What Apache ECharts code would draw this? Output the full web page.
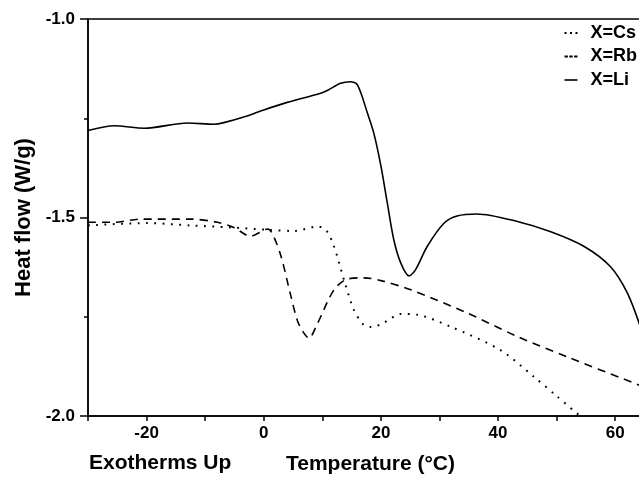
<!DOCTYPE html>
<html>
<head>
<meta charset="utf-8">
<script src="https://cdn.jsdelivr.net/npm/echarts@6/dist/echarts.min.js"></script>
<style>
  html, body { margin: 0; padding: 0; background: #fff; }
  #main { width: 639px; height: 477px; }
</style>
</head>
<body>
<div id="main"></div>
<script>
  // temperatures (°C) and heat flow (W/g)
  var csTemp = [-30, -19.9, -12.5, -5.6, 0.6, 5.2, 9.2, 10.6, 12, 13.7, 15.4, 17.1, 18.4, 20.5, 23.4, 26.2, 31.9, 40.4, 46.1, 50.1, 54];
  var csFlow = [-1.520, -1.514, -1.520, -1.525, -1.531, -1.534, -1.523, -1.531, -1.573, -1.657, -1.733, -1.771, -1.776, -1.765, -1.743, -1.745, -1.775, -1.834, -1.901, -1.951, -2.0];

  var rbTemp = [-30, -25.5, -21, -12.5, -7.9, -5.1, -2.3, 0.7, 1.7, 3.0, 4.5, 5.75, 6.8, 7.7, 9.2, 12, 14.3, 17.1, 20, 25.1, 34.8, 43.3, 51.8, 64.4];
  var rbFlow = [-1.512, -1.512, -1.504, -1.504, -1.512, -1.525, -1.547, -1.529, -1.548, -1.600, -1.690, -1.760, -1.790, -1.804, -1.766, -1.682, -1.655, -1.652, -1.659, -1.682, -1.741, -1.800, -1.851, -1.924];

  var liTemp = [-30, -25.5, -20.4, -13, -8.5, -6.8, -3, 0, 4, 9.7, 11.1, 13.1, 14.8, 16, 17.7, 18.8, 20, 21.1, 22.2, 23.4, 24.8, 25.9, 27.9, 30.8, 33, 36.4, 43.3, 49, 54.7, 59.2, 62.1, 64.4];
  var liFlow = [-1.281, -1.269, -1.275, -1.262, -1.265, -1.261, -1.245, -1.229, -1.210, -1.187, -1.178, -1.162, -1.158, -1.166, -1.237, -1.288, -1.370, -1.464, -1.556, -1.615, -1.647, -1.632, -1.573, -1.514, -1.496, -1.491, -1.510, -1.536, -1.573, -1.624, -1.691, -1.780];

  var seriesNames = ["X=Cs", "X=Rb", "X=Li"];
  var xLabelValues = [-20, 0, 20, 40, 60];

  function pairs(t, v) {
    return t.map(function (x, i) { return [x, v[i]]; });
  }

  var font = "'Liberation Sans', Arial, sans-serif";
  var myChart = echarts.init(document.getElementById("main"));
  var option;

  option = {
    animation: false,
    backgroundColor: "#fff",
    grid: {
      left: 88,
      right: -2,
      top: 19,
      bottom: 61,
      show: true,
      borderColor: "#000",
      borderWidth: 1.5,
      outerBoundsMode: "none",
    },
    legend: {
      orient: "vertical",
      right: 2,
      top: 24,
      padding: 0,
      itemGap: 5.5,
      itemWidth: 13,
      itemHeight: 2,
      textStyle: {
        fontFamily: font,
        fontWeight: "bold",
        fontSize: 18,
        color: "#000",
        padding: [0, 0, 0, 8],
      },
      data: [
        { name: seriesNames[0], icon: "path://M0,0h2v2h-2z M5.5,0h2v2h-2z M11,0h2v2h-2z" },
        { name: seriesNames[1], icon: "path://M0,0h3.4v2h-3.4z M4.8,0h3.4v2h-3.4z M9.6,0h3.4v2h-3.4z" },
        { name: seriesNames[2], icon: "path://M0,0h13v1.6h-13z" },
      ],
    },
    graphic: [
      {
        type: "text",
        left: 89,
        top: 453,
        style: {
          text: "Exotherms Up",
          fontFamily: font,
          fontWeight: "bold",
          fontSize: 21,
          fill: "#000",
        },
      },
    ],
    xAxis: {
      type: "value",
      min: -30,
      max: 64.4,
      interval: 10,
      name: "Temperature (°C)",
      nameLocation: "middle",
      nameGap: 38,
      nameTextStyle: {
        fontFamily: font,
        fontWeight: "bold",
        fontSize: 21,
        color: "#000",
        padding: [0, 0, 0, 12],
      },
      splitLine: { show: false },
      axisLine: { onZero: false, lineStyle: { color: "#000", width: 1.5 } },
      axisTick: { length: 5, lineStyle: { color: "#000", width: 1.5 } },
      axisLabel: {
        margin: 9,
        fontFamily: font,
        fontWeight: "bold",
        fontSize: 17,
        color: "#000",
        formatter: function (v) {
          return xLabelValues.indexOf(v) >= 0 ? String(v) : "";
        },
      },
    },
    yAxis: {
      type: "value",
      min: -2,
      max: -1,
      interval: 0.5,
      name: "Heat flow (W/g)",
      nameLocation: "middle",
      nameRotate: 90,
      nameGap: 48,
      nameTextStyle: {
        fontFamily: font,
        fontWeight: "bold",
        fontSize: 22,
        color: "#000",
      },
      splitLine: { show: false },
      axisLine: { onZero: false, lineStyle: { color: "#000", width: 1.5 } },
      axisTick: { length: 8, lineStyle: { color: "#000", width: 1.5 } },
      minorTick: { show: true, splitNumber: 2, length: 4, lineStyle: { color: "#000", width: 1.5 } },
      minorSplitLine: { show: false },
      axisLabel: {
        margin: 13,
        fontFamily: font,
        fontWeight: "bold",
        fontSize: 17,
        color: "#000",
        formatter: function (v) { return v.toFixed(1); },
      },
    },
    series: [
      {
        name: seriesNames[0],
        type: "line",
        data: pairs(csTemp, csFlow),
        smooth: 0.3,
        symbol: "none",
        clip: true,
        lineStyle: { color: "#000", width: 2, type: [1.8, 6.5] },
        itemStyle: { color: "#000" },
      },
      {
        name: seriesNames[1],
        type: "line",
        data: pairs(rbTemp, rbFlow),
        smooth: 0.3,
        symbol: "none",
        clip: true,
        lineStyle: { color: "#000", width: 1.6, type: [8, 6] },
        itemStyle: { color: "#000" },
      },
      {
        name: seriesNames[2],
        type: "line",
        data: pairs(liTemp, liFlow),
        smooth: 0.3,
        symbol: "none",
        clip: true,
        lineStyle: { color: "#000", width: 1.6 },
        itemStyle: { color: "#000" },
      },
    ],
  };

  option && myChart.setOption(option);
</script>
</body>
</html>
